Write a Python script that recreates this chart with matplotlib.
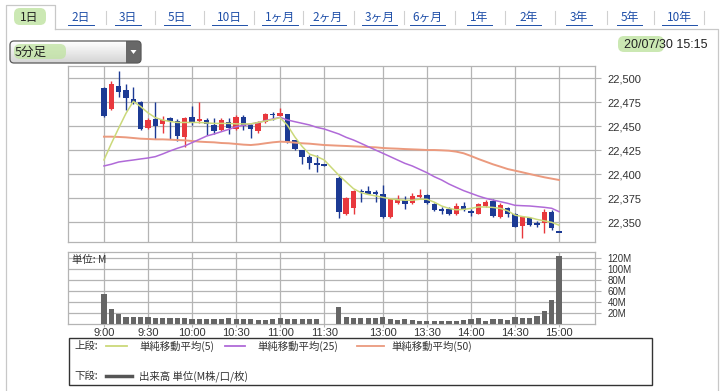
import matplotlib.pyplot as plt
import numpy as np
from matplotlib.patches import FancyBboxPatch, Rectangle, Polygon

plt.rcParams['font.family'] = ['Liberation Sans', 'Noto Sans CJK JP', 'DejaVu Sans']
JP = ['Noto Sans CJK JP', 'DejaVu Sans']

# 5-minute bars, 2020/07/30 (morning 9:00-11:30, afternoon 12:30-15:00)
TIMES = ([f"{9 + m // 60}:{m % 60:02d}" for m in range(0, 151, 5)] +
         [f"{12 + (30 + m) // 60}:{(30 + m) % 60:02d}" for m in range(0, 151, 5)])

OPENS = [22490, 22468, 22492, 22488, 22478, 22475, 22448, 22458, 22452, 22459,
         22456, 22439, 22460, 22455, 22457, 22451, 22446, 22454, 22447, 22460,
         22451, 22445, 22454, 22463, 22461, 22463, 22436, 22425, 22418, 22411.5,
         22410,
         22396, 22359, 22365, 22383, 22383, 22382, 22380, 22356, 22370, 22373,
         22370, 22376, 22378, 22369, 22363.5, 22363.5, 22358.5, 22367, 22362, 22359,
         22367, 22372, 22356, 22365, 22359, 22346, 22355, 22349, 22349, 22361,
         22340]
HIGHS = [22491, 22497, 22508, 22494, 22491, 22476, 22459, 22475, 22461, 22460,
         22458, 22460, 22471, 22475, 22459, 22459, 22459, 22459, 22462, 22462,
         22453, 22456, 22464, 22465, 22469, 22463, 22436, 22425, 22420, 22420,
         22410,
         22398, 22376, 22384, 22385, 22388, 22384, 22389, 22375, 22378, 22377,
         22381, 22385, 22380, 22370, 22366, 22366, 22370.5, 22371.5, 22363.5, 22370.5,
         22373, 22374, 22370, 22366, 22360, 22356.5, 22356, 22351.5, 22363.5, 22363,
         22340]
LOWS = [22460, 22467, 22481, 22467, 22473, 22446, 22447, 22437, 22443, 22437,
        22435, 22428, 22451, 22453, 22441, 22442, 22445, 22442, 22446, 22446,
        22438, 22443, 22453, 22457, 22461, 22433, 22425, 22411, 22406, 22402,
        22409,
        22354, 22358, 22359, 22371, 22379, 22371, 22355, 22355, 22369, 22364,
        22369, 22375, 22369, 22362, 22359, 22358, 22358, 22362, 22356.5, 22358.5,
        22366, 22356, 22355, 22356, 22345, 22334, 22346.5, 22345.5, 22339, 22342,
        22340]
CLOSES = [22461, 22494, 22486, 22479, 22474, 22447, 22457, 22450, 22457, 22455,
          22440, 22459, 22454, 22458, 22452, 22445, 22457, 22448, 22460, 22450,
          22447, 22454, 22463, 22462, 22464, 22434, 22426, 22418, 22412, 22410.5,
          22409,
          22361, 22375, 22383, 22381.5, 22380, 22379, 22356, 22374, 22374, 22369,
          22377, 22378.5, 22370, 22363, 22361.5, 22358.5, 22367, 22363, 22359.5, 22369,
          22371.5, 22356.5, 22368.5, 22358.5, 22345.5, 22356, 22347, 22348, 22361, 22344,
          22340]

VOLUMES = [55, 27, 19, 14, 14, 14, 14, 12, 11, 12,
           11, 11, 10, 10, 10, 10, 10, 11, 9, 10,
           10, 8, 8, 9, 12, 10, 9, 10, 9, 9,
           0,
           32, 14, 12, 11, 11, 12, 14, 9.8, 8.6, 9.8,
           8.6, 6.7, 6.7, 6.7, 5.5, 6.7, 6.7, 8, 9.2, 12.2,
           6.7, 9.8, 9.8, 8.6, 14, 12.2, 12.2, 15.8, 23.6, 44,
           123.7]

MA5 = [22415, 22432, 22448, 22463.5, 22476, 22470.5, 22464, 22459, 22456.5, 22455,
       22454, 22454, 22454, 22454, 22453.5, 22453, 22453, 22453, 22452.5, 22452.5,
       22452.5, 22454, 22455.5, 22457, 22459, 22451, 22439, 22429, 22421, 22418.5,
       22415,
       22399, 22392, 22385, 22381, 22379, 22377.5, 22376, 22374.5, 22373.5, 22373,
       22373, 22374, 22374, 22371, 22367, 22364.5, 22363, 22363.5, 22364.5, 22366,
       22366, 22365.5, 22364.5, 22362, 22357.5, 22356, 22355, 22353, 22351.5, 22350,
       22347]
MA25 = [22408.7, 22410.5, 22412.8, 22413.9, 22414.9, 22416, 22417, 22418.4, 22421.2, 22424.3,
        22427.1, 22429.5, 22433, 22436.4, 22439.9, 22442, 22444.4, 22446.8, 22449.6, 22451,
        22452.4, 22453.8, 22455.9, 22457.6, 22459.3, 22456.6, 22454.8, 22453.1, 22451.4, 22448.9,
        22447.2,
        22442, 22438.5, 22435.7, 22432.3, 22428.8, 22425.3, 22421.9, 22418.4, 22414.9, 22411.4,
        22408.7, 22405.2, 22401.7, 22397.5, 22394.1, 22389.9, 22386.4, 22383, 22380.2, 22377.4,
        22375, 22373.2, 22371.5, 22369.8, 22367.7, 22367.3, 22367, 22366.3, 22365.6, 22364.6,
        22361.1]
MA50 = [22439.2, 22439.2, 22438.9, 22438.5, 22437.8, 22437.1, 22436.8, 22436.4, 22436.4, 22436.1,
        22435.7, 22435.4, 22434.7, 22434, 22433.6, 22433.3, 22432.6, 22432.3, 22431.6, 22430.9,
        22430.5, 22431.2, 22432.3, 22433.3, 22434, 22433.7, 22433, 22432.3, 22431.9, 22431.2,
        22430.5,
        22429.8, 22429.5, 22429.1, 22428.8, 22428.4, 22428.1, 22427.4, 22427, 22426.7, 22426.3,
        22426, 22425.7, 22425.3, 22425.3, 22425, 22424.6, 22423.6, 22421.9, 22419.1, 22416,
        22413.2, 22410.4, 22408, 22405.5, 22403.8, 22402.1, 22400.3, 22398.6, 22396.9, 22395.5,
        22394.1]

TIME_TICKS = ["9:00", "9:30", "10:00", "10:30", "11:00", "11:30",
              "13:00", "13:30", "14:00", "14:30", "15:00"]
PRICE_TICKS = [22350, 22375, 22400, 22425, 22450, 22475, 22500]
VOLUME_TICKS = [20, 40, 60, 80, 100, 120]

TABS = ["1日", "2日", "3日", "5日", "10日", "1ヶ月", "2ヶ月", "3ヶ月", "6ヶ月",
        "1年", "2年", "3年", "5年", "10年"]

UP = "#e8383d"
DOWN = "#1c3a94"
GRID = "#b4b4b4"


def to_slot(t):
    h, m = map(int, t.split(":"))
    mins = h * 60 + m
    if mins <= 11 * 60 + 30:
        return (mins - 540) / 5
    # lunch break squeezed into one empty slot
    return (mins - 750) / 5 + 32


W, H = 722, 391
fig = plt.figure(figsize=(W / 100, H / 100), dpi=100)

# page decorations in pixel coordinates
bg = fig.add_axes([0, 0, 1, 1], zorder=0)
bg.set_xlim(0, W)
bg.set_ylim(H, 0)
bg.axis("off")

line_c = "#c8c8c8"
bg.plot([6, 6, 55, 55], [H, 5, 5, 29], color=line_c, lw=0.9)
bg.plot([55, 718, 718], [29, 29, H], color=line_c, lw=0.9)

tab_x = [29, 81, 128, 177, 229.5, 280, 328, 379.5, 427.5, 479.5, 528.5, 579, 629.5, 679.5]
seps = [105.6, 155, 203.7, 253.7, 303, 354, 404, 455, 504.6, 554.6, 606.5, 654, 703.7]

hl = "#bfe3a0"
bg.add_patch(FancyBboxPatch((15, 9), 30, 15, boxstyle="round,pad=1,rounding_size=6",
                            fc=hl, ec="none", alpha=0.8))
for i, (tx, name) in enumerate(zip(tab_x, TABS)):
    if i == 0:
        bg.text(tx, 17, name, fontsize=8.5, family=JP, ha="center", va="center", color="#222222")
    else:
        t = bg.text(tx, 17, name, fontsize=8.5, family=JP, ha="center", va="center", color="#1f4fa8")
        half = 5.3 * len(name) + 2
        bg.plot([tx - half, tx + half], [24.5, 24.5], color="#1f4fa8", lw=0.7)
for sx in seps:
    bg.plot([sx, sx], [11, 24], color="#d0d0d0", lw=0.8)

# dropdown
box = FancyBboxPatch((10, 41), 131, 22, boxstyle="round,pad=0,rounding_size=4",
                     fc="none", ec="#5a5a5a", lw=0.9, zorder=3)
bg.add_patch(box)
grad = np.linspace(1.0, 0.83, 50).reshape(-1, 1)
im = bg.imshow(grad, extent=[10, 141, 63, 41], cmap="gray", vmin=0, vmax=1,
               aspect="auto", zorder=1)
im.set_clip_path(box)
btn = Rectangle((126, 41), 15, 22, fc="#686868", ec="none", zorder=2)
bg.add_patch(btn)
btn.set_clip_path(box)
bg.add_patch(Polygon([[130.5, 50], [136.5, 50], [133.5, 54]], closed=True, fc="white", ec="none", zorder=4))
bg.add_patch(FancyBboxPatch((15, 45), 50, 13, boxstyle="round,pad=1,rounding_size=6",
                            fc=hl, ec="none", alpha=0.75, zorder=2))
bg.text(15, 52.5, "5分足", fontsize=9, family=JP, ha="left", va="center", color="#222222", zorder=5)

# date
bg.add_patch(FancyBboxPatch((619, 37), 44, 14, boxstyle="round,pad=1,rounding_size=6",
                            fc=hl, ec="none", alpha=0.8))
bg.text(707, 44.5, "20/07/30 15:15", fontsize=9, ha="right", va="center", color="#222222")

# legend box
bg.add_patch(Rectangle((69, 338), 583, 47, fc="none", ec="#333333", lw=1.0))
bg.text(74, 346, "上段:", fontsize=7.5, family=JP, va="center", color="#333333")
for (x0, x1, tx), col, lab in zip([(105.5, 127, 139), (224.5, 245, 257), (357, 384, 391)],
                                  ["#cbd97a", "#b06ad8", "#eb9a7e"],
                                  ["単純移動平均(5)", "単純移動平均(25)", "単純移動平均(50)"]):
    bg.plot([x0, x1], [346, 346], color=col, lw=1.3)
    bg.text(tx, 346, lab, fontsize=7.5, family=JP, va="center", color="#333333")
bg.text(74, 376, "下段:", fontsize=7.5, family=JP, va="center", color="#333333")
bg.plot([105.5, 132], [376, 376], color="#555555", lw=2.5)
bg.text(139, 376, "出来高 単位(M株/口/枚)", fontsize=7.5, family=JP, va="center", color="#333333")

# price chart
slots = [to_slot(t) for t in TIMES]
tick_slots = [to_slot(t) for t in TIME_TICKS]
xlim = (-4.9, 66.9)

ax = fig.add_axes([68 / W, 1 - 242 / H, 527 / W, 176 / H], zorder=1)
ax.set_xlim(*xlim)
ax.set_ylim(22329.5, 22512.8)
for xi, o, h, l, c in zip(slots, OPENS, HIGHS, LOWS, CLOSES):
    col = UP if c > o else DOWN
    ax.vlines(xi, l, h, color=col, lw=1.0, zorder=3)
    body = abs(c - o)
    bh = max(body, 1.6)
    bottom = min(o, c) - (bh - body) / 2
    ax.bar(xi, bh, bottom=bottom, width=0.74, color=col, zorder=3, lw=0)
ax.plot(slots, MA50, color="#eb9a7e", lw=1.4, zorder=4)
ax.plot(slots, MA25, color="#b06ad8", lw=1.1, zorder=4)
ax.plot(slots, MA5, color="#cbd97a", lw=1.1, zorder=4)

ax.set_xticks(tick_slots)
ax.set_xticklabels([])
ax.tick_params(axis="x", length=0)
ax.yaxis.tick_right()
ax.set_yticks(PRICE_TICKS)
ax.set_yticklabels([f"{p:,}" for p in PRICE_TICKS])
ax.tick_params(axis="y", length=4, width=0.8, color=GRID, pad=5, labelsize=8, labelcolor="#333333")
ax.grid(True, color=GRID, lw=0.9)
ax.set_axisbelow(True)
for s in ax.spines.values():
    s.set_color(GRID)
    s.set_linewidth(0.9)

# volume chart
axv = fig.add_axes([68 / W, 1 - 324.3 / H, 527 / W, 72 / H], zorder=1)
axv.set_xlim(*xlim)
axv.set_ylim(0, 131)
axv.bar(slots, VOLUMES, width=0.7, color="#666666", lw=0, zorder=3)
axv.set_xticks(tick_slots)
axv.set_xticklabels(TIME_TICKS)
axv.tick_params(axis="x", length=2, color=GRID, pad=1, labelsize=8, labelcolor="#333333")
axv.yaxis.tick_right()
axv.set_yticks(VOLUME_TICKS)
axv.set_yticklabels([f"{v}M" for v in VOLUME_TICKS])
axv.tick_params(axis="y", length=4, width=0.8, color=GRID, pad=5, labelsize=7, labelcolor="#333333")
axv.grid(True, color=GRID, lw=0.9)
axv.set_axisbelow(True)
for s in axv.spines.values():
    s.set_color(GRID)
    s.set_linewidth(0.9)
axv.text(0.008, 0.9, "単位: M", transform=axv.transAxes, fontsize=7.5, family=JP,
         va="center", ha="left", color="#333333", zorder=5)

fig.savefig("out.png", dpi=100)
